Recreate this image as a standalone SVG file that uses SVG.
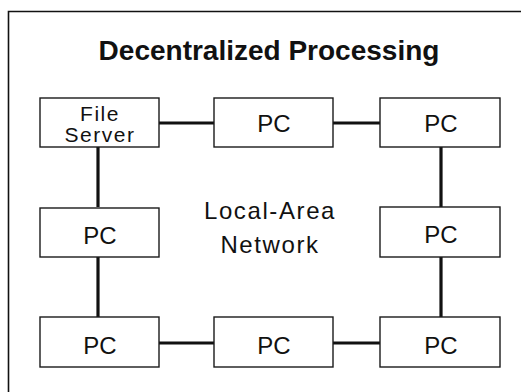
<svg xmlns="http://www.w3.org/2000/svg" width="521" height="392" viewBox="0 0 521 392">
<style>
.box{fill:#fff;stroke:#1a1a1a;stroke-width:1.4}
.lbl{font-family:"Liberation Sans",Arial,sans-serif;font-size:24px;fill:#111;text-anchor:middle}
.fs{font-size:21px;letter-spacing:1.5px}
.lan{letter-spacing:1.6px}
.title{font-family:"Liberation Sans",Arial,sans-serif;font-size:28px;font-weight:bold;fill:#111;text-anchor:middle}
.link{stroke:#111;stroke-width:3.2;fill:none}
</style>
<rect width="521" height="392" fill="#fff"/>
<path d="M8.5 392 V11.5 H521" fill="none" stroke="#111" stroke-width="1.6"/>
<text class="title" x="269" y="60">Decentralized Processing</text>
<g id="connectors">
<line class="link" x1="159" y1="123" x2="214" y2="123"/>
<line class="link" x1="333" y1="123" x2="380" y2="123"/>
<line class="link" x1="98" y1="147" x2="98" y2="207"/>
<line class="link" x1="98" y1="257" x2="98" y2="317"/>
<line class="link" x1="441" y1="147" x2="441" y2="207"/>
<line class="link" x1="441" y1="257" x2="441" y2="317"/>
<line class="link" x1="159" y1="343" x2="214" y2="343"/>
<line class="link" x1="333" y1="343" x2="380" y2="343"/>
</g>
<g id="fileserver"><rect class="box" x="40" y="98" width="119" height="49"/><text class="lbl fs" x="100" y="120.5">File</text><text class="lbl fs" x="100" y="142">Server</text></g>
<g id="pc-top-mid"><rect class="box" x="214" y="98" width="119" height="49"/><text class="lbl" x="274" y="132">PC</text></g>
<g id="pc-top-right"><rect class="box" x="380" y="98" width="120" height="49"/><text class="lbl" x="441" y="132">PC</text></g>
<g id="pc-mid-left"><rect class="box" x="40" y="208" width="119" height="49"/><text class="lbl" x="100" y="244">PC</text></g>
<g id="pc-mid-right"><rect class="box" x="380" y="207" width="120" height="50"/><text class="lbl" x="441" y="243">PC</text></g>
<g id="pc-bot-left"><rect class="box" x="40" y="317" width="119" height="50"/><text class="lbl" x="100" y="354">PC</text></g>
<g id="pc-bot-mid"><rect class="box" x="214" y="317" width="119" height="50"/><text class="lbl" x="274" y="354">PC</text></g>
<g id="pc-bot-right"><rect class="box" x="380" y="317" width="120" height="50"/><text class="lbl" x="441" y="354">PC</text></g>
<g id="lan-label"><text class="lbl lan" x="270" y="219">Local-Area</text><text class="lbl lan" x="270" y="253">Network</text></g>
</svg>
